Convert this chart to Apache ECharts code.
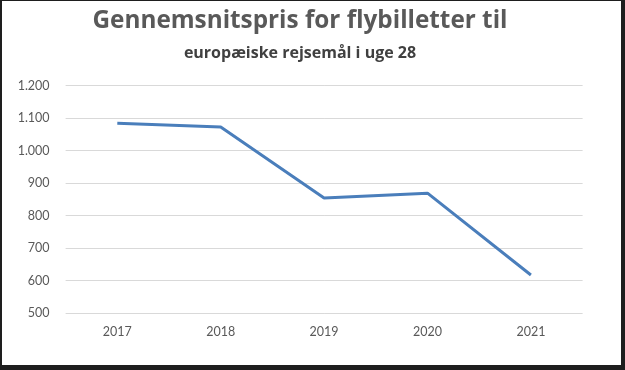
<!DOCTYPE html>
<html>
<head>
<meta charset="utf-8">
<script src="https://cdn.jsdelivr.net/npm/echarts@6/dist/echarts.min.js"></script>
<style>
html,body{margin:0;padding:0;width:625px;height:370px;background:#1e1e1e;overflow:hidden;}
#chart{position:absolute;left:2px;top:1px;width:619px;height:364px;background:#ffffff;}
</style>
</head>
<body>
<div id="chart"></div>
<script>
const titleText = 'Gennemsnitspris for flybilletter til';
const subtitleText = 'europæiske rejsemål i uge 28';
const categories = ['2017', '2018', '2019', '2020', '2021'];
const prices = [1084, 1073, 854, 869, 617];
const yMin = 500, yMax = 1200, yStep = 100;

const chart = echarts.init(document.getElementById('chart'), null, {renderer: 'canvas'});
const font = 'Lato, "Open Sans", sans-serif';
const titleFont = '"Open Sans", Lato, sans-serif';
chart.setOption({
  animation: false,
  backgroundColor: '#ffffff',
  graphic: [
    {type: 'text', x: 298, y: 8, style: {text: titleText, fontSize: 24.3, fontWeight: 'bold', fontFamily: titleFont, fill: '#595959', align: 'center', verticalAlign: 'top'}},
    {type: 'text', x: 298, y: 44, style: {text: subtitleText, fontSize: 16, fontWeight: 'bold', fontFamily: titleFont, fill: '#404040', align: 'center', verticalAlign: 'top'}}
  ],
  grid: {left: 63.6, top: 84.7, width: 517, height: 227.3, containLabel: false},
  xAxis: {
    type: 'category',
    data: categories,
    boundaryGap: true,
    axisLine: {show: false},
    axisTick: {show: false},
    axisLabel: {color: '#595959', fontSize: 12.5, fontFamily: font, margin: 12}
  },
  yAxis: {
    type: 'value',
    min: yMin, max: yMax, interval: yStep,
    axisLine: {show: false},
    axisTick: {show: false},
    splitLine: {lineStyle: {color: '#d9d9d9', width: 1}},
    axisLabel: {
      color: '#595959', fontSize: 12.5, fontFamily: font, margin: 16,
      formatter: v => String(v).replace(/\B(?=(\d{3})+(?!\d))/g, '.')
    }
  },
  series: [{
    type: 'line',
    data: prices,
    symbol: 'none',
    lineStyle: {color: '#4a7ebb', width: 3},
    itemStyle: {color: '#4a7ebb'}
  }]
});
</script>
</body>
</html>
